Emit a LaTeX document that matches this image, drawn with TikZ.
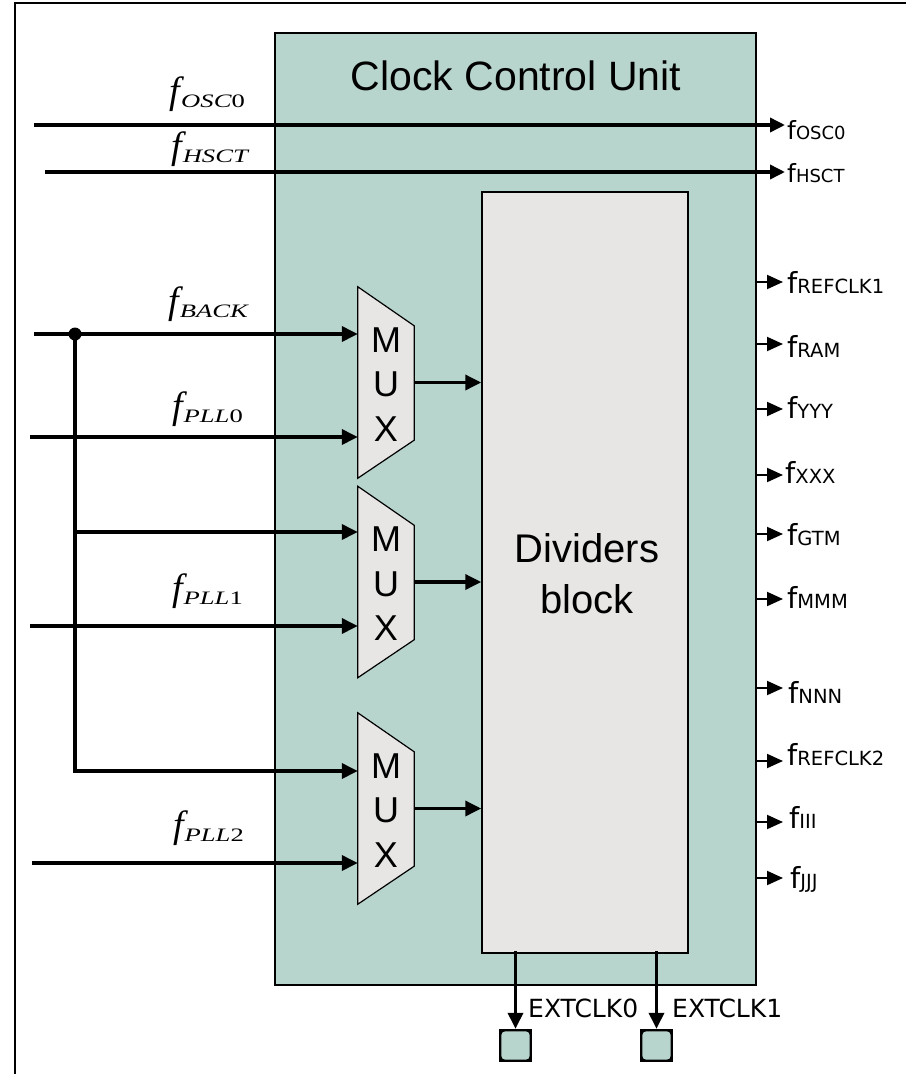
\documentclass[tikz,border=0pt]{standalone}
\usepackage{fontspec}
\setmainfont{Liberation Sans}
\newfontfamily\dvfont{DejaVu Sans}
\newfontfamily\mserif{Liberation Serif}
\usetikzlibrary{arrows.meta,calc}
\definecolor{ccuteal}{RGB}{183,212,205}
\definecolor{divgray}{RGB}{231,230,229}
\newcommand\flab[3]{{\fontsize{#1}{#1}\selectfont f}{\fontsize{#2}{#2}\selectfont #3}}
\newcommand\mlabtxt[2]{{\mserif\fontsize{38}{38}\selectfont\itshape f}\hspace{1pt}\raisebox{-4pt}{\scalebox{1.4}[1]{\mserif\fontsize{19}{19}\selectfont\itshape #1\upshape #2}}}
\begin{document}
\begin{tikzpicture}[x=1pt,y=-1pt,
  ccubox/.style={draw=black, line width=1.5pt, fill=ccuteal, inner sep=0pt},
  divbox/.style={draw=black, line width=1.5pt, fill=divgray, inner sep=0pt},
  wire/.style={line width=3.5pt},
  inarr/.style={wire, -{Triangle[length=16pt,width=15pt]}},
  outarr/.style={line width=2pt, -{Triangle[length=16pt,width=14pt]}},
  muxbox/.style={minimum width=56pt, minimum height=191pt, inner sep=0pt},
  muxshape/.style={draw=black, line width=1.2pt, fill=divgray},
  muxtxt/.style={anchor=base, inner sep=0pt, font=\fontsize{36}{36}\selectfont},
  mlab/.style={anchor=base east, inner sep=0pt},
  rlab/.style={anchor=base west, inner sep=0pt, font=\dvfont},
  extlab/.style={anchor=base west, inner sep=0pt, font=\dvfont\fontsize{25}{25}\selectfont},
  pad/.style={fill=black, minimum size=33pt, inner sep=0pt}]
\useasboundingbox (0,0) rectangle (906,1074);
\draw[line width=2pt] (15,1074) -- (15,3) -- (906,3);

% main boxes
\node[ccubox, minimum width=481pt, minimum height=952pt] (ccu) at (515.5,509) {};
\node[divbox, minimum width=206pt, minimum height=761pt] (div) at (585,572.5) {};
\node[anchor=base, inner sep=0pt, font=\fontsize{41}{41}\selectfont] (title) at (516,90) {Clock Control Unit};
\node[anchor=base, inner sep=0pt, font=\fontsize{40}{40}\selectfont] (divt1) at (587,562) {Dividers};
\node[anchor=base, inner sep=0pt, font=\fontsize{40}{40}\selectfont] (divt2) at (587,613) {block};

% multiplexers
\foreach \i/\cy in {1/382.5,2/582,3/808.5}{
  \node[muxbox] (mux\i) at (386,\cy) {};
  \draw[muxshape] (mux\i.north west) -- ($(mux\i.north east)+(0,39)$)
     -- ($(mux\i.south east)+(0,-38)$) -- (mux\i.south west) -- cycle;
  \node[muxtxt] (mux\i m) at ($(mux\i.center)+(0,-30.5)$) {M};
  \node[muxtxt] (mux\i u) at ($(mux\i.center)+(0,14)$) {U};
  \node[muxtxt] (mux\i x) at ($(mux\i.center)+(0,58.5)$) {X};
  \draw[inarr] (mux\i.east) -- (mux\i.east -| div.west);
}

% left input labels
\node[mlab] (lOSC)  at (245,103) {\mlabtxt{OSC}{0}};
\node[mlab] (lHSCT) at (248,158) {\mlabtxt{HSCT}{}};
\node[mlab] (lBACK) at (248,313) {\mlabtxt{BACK}{}};
\node[mlab] (lPLL0) at (243,418) {\mlabtxt{PLL}{0}};
\node[mlab] (lPLL1) at (243,600) {\mlabtxt{PLL}{1}};
\node[mlab] (lPLL2) at (244,837) {\mlabtxt{PLL}{2}};

% pass-through clocks
\node[rlab] (oOSC) at (787,139) {\flab{25}{18}{OSC0}};
\node[rlab] (oHSCT) at (787,182) {\flab{25}{18}{HSCT}};
\coordinate (sOSC) at (34,125);
\coordinate (sHSCT) at (45,172);
\draw[wire, -{Triangle[length=15pt,width=14pt]}] (sOSC) -- ($(sOSC -| oOSC.west)+(-2,0)$);
\draw[wire, -{Triangle[length=15pt,width=14pt]}] (sHSCT) -- ($(sHSCT -| oHSCT.west)+(-2,0)$);

% mux inputs
\coordinate (sBACK) at (34,334);
\coordinate (sPLL0) at (30,437);
\coordinate (sPLL1) at (30,626);
\coordinate (sPLL2) at (32,863);
\node[circle, fill=black, inner sep=0pt, minimum size=13pt] (dot) at (75,334) {};
\coordinate (b2) at (75,532);
\coordinate (b3) at (75,771);
\draw[inarr] (sBACK) -- (sBACK -| mux1.west);
\draw[inarr] (sPLL0) -- (sPLL0 -| mux1.west);
\draw[inarr] (sPLL1) -- (sPLL1 -| mux2.west);
\draw[inarr] (sPLL2) -- (sPLL2 -| mux3.west);
\draw[inarr] (dot.center) -- (b3) -- (b3 -| mux3.west);
\draw[inarr] (b2) -- (b2 -| mux2.west);

% right outputs
\foreach \n/\ay/\by/\lx/\t in {r1/282/293/787/REFCLK1, ram/344/357/787/RAM, yyy/409/418/787/YYY,
   xxx/475/483/785/XXX, gtm/534/545/787/GTM, mmm/599/608/787/MMM, nnn/688/703/788/NNN,
   r2/761/765/787/REFCLK2, iii/822/828/789/III, jjj/878/888/790/JJJ}{
  \node[rlab] (o\n) at (\lx,\by) {\flab{29}{19.5}{\t}};
  \draw[outarr] (ccu.east |- 0,\ay) -- (783,\ay);
}

% external clock pads
\node[pad] (p0) at (515.5,1045.5) {};
\node[pad] (p1) at (656.5,1045.5) {};
\foreach \p in {p0,p1}{
  \fill[ccuteal, rounded corners=4pt] ($(\p.south west)+(2.5,-2.5)$) rectangle ($(\p.north east)+(-2.5,2.5)$);
  \draw[inarr] ($(\p |- div.south)+(0,-3)$) -- (\p.north);
}
\node[extlab] (e0) at (528,1017) {EXTCLK0};
\node[extlab] (e1) at (672,1017) {EXTCLK1};
\end{tikzpicture}
\end{document}
